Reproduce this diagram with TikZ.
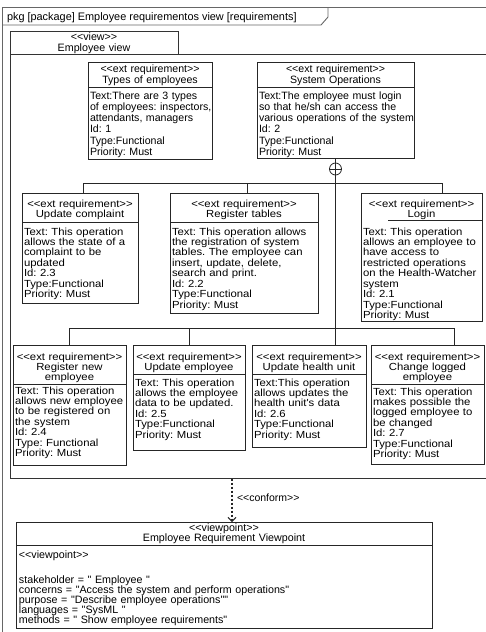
\documentclass[tikz,border=0pt]{standalone}
\usepackage{fontspec}
\setmainfont{Liberation Sans}
\newfontfamily\nfont{Liberation Sans}
\newfontfamily\wfont{Liberation Sans}[FakeStretch=1.1]
\usetikzlibrary{arrows.meta}
\frenchspacing
\begin{document}
\begin{tikzpicture}[x=1pt,y=-1pt,
  every node/.style={inner sep=0pt, outer sep=0pt},
  frameline/.style={draw=black!60, line width=0.9pt},
  viewline/.style={draw=black!80, line width=0.9pt},
  boxline/.style={draw=black!85, line width=0.8pt},
  req/.style={boxline, anchor=north west, rectangle},
  toptxt/.style={font=\nfont\fontsize{10.6}{11.3}\selectfont},
  lowtxt/.style={font=\wfont\fontsize{10.3}{10.45}\selectfont},
  vptxt/.style={font=\nfont\fontsize{10.7}{10}\selectfont},
  hdr/.style={align=center, anchor=base, text width=160},
  bdy/.style={align=left, anchor=base west, text width=220},
  conf/.style={draw=black!85, line width=1.2pt, dash pattern=on 2.5pt off 1.5pt, -{Straight Barb[length=4pt,width=8pt,line width=1pt]}}
]
\useasboundingbox (0,0) rectangle (486,632);
\clip (0,0) rectangle (486,632);

% package frame
\draw[frameline] (2,650) -- (2,7) -- (500,7);
\draw[frameline] (2,25) -- (321,25) -- (328,17) -- (328,7);
\node[anchor=base west, font=\nfont\fontsize{10.9}{12}\selectfont] (pkg) at (7,20.5) {pkg [package] Employee requirementos view [requirements]};

% view frame
\node[viewline, anchor=north west, minimum width=168, minimum height=23] (vtab) at (10,31) {};
\node[hdr, font=\nfont\fontsize{10.7}{11}\selectfont] (vtabt) at (94,40.5) {<<view>>\\Employee view};
\draw[viewline] (vtab.south east) -- (500,54);
\draw[viewline] (vtab.south west) -- (10,478) -- (500,478);

% top row
\node[req, minimum width=124, minimum height=97] (te) at (88,62) {};
\node[toptxt, hdr] (teh) at (te.north |- 0,72) {<<ext requirement>>\\Types of employees};
\draw[boxline] ([yshift=-25pt]te.north west) -- ([yshift=-25pt]te.north east);
\node[toptxt, bdy] (teb) at (90,99) {Text:There are 3 types\\of employees: inspectors,\\attendants, managers\\Id: 1\\Type:Functional\\Priority: Must};

\node[req, minimum width=157, minimum height=96] (so) at (257,62) {};
\node[toptxt, hdr] (soh) at (so.north |- 0,72) {<<ext requirement>>\\System Operations};
\draw[boxline] ([yshift=-25pt]so.north west) -- ([yshift=-25pt]so.north east);
\node[toptxt, bdy] (sob) at (259,99) {Text:The employee must login\\so that he/sh can access the\\various operations of the system\\Id: 2\\Type:Functional\\Priority: Must};

\node[boxline, circle, minimum size=12] (hub) at (so.south |- 0,169) {};
\draw[boxline] (hub.west) -- (hub.east);
\draw[boxline] (so.south) -- (hub.north) -- (hub.south);

% second row
\node[req, minimum width=116, minimum height=110] (uc) at (22,193) {};
\node[lowtxt, hdr] (uch) at (uc.north |- 0,207) {<<ext requirement>>\\Update complaint};
\draw[boxline] ([yshift=-29pt]uc.north west) -- ([yshift=-29pt]uc.north east);
\node[lowtxt, bdy] (ucb) at (24,235) {Text: This operation\\allows the state of a\\complaint to be\\updated\\Id: 2.3\\Type:Functional\\Priority: Must};

\node[req, minimum width=148, minimum height=120] (rt) at (170,193) {};
\node[lowtxt, hdr] (rth) at (rt.north |- 0,207) {<<ext requirement>>\\Register tables};
\draw[boxline] ([yshift=-29pt]rt.north west) -- ([yshift=-29pt]rt.north east);
\node[lowtxt, bdy] (rtb) at (172,235) {Text: This operation allows\\the registration of system\\tables. The employee can\\insert, update, delete,\\search and print.\\Id: 2.2\\Type:Functional\\Priority: Must};

\node[req, minimum width=121, minimum height=128] (lg) at (361,193) {};
\node[lowtxt, hdr] (lgh) at (lg.north |- 0,207) {<<ext requirement>>\\Login};
\draw[boxline] ([yshift=-27pt]lg.north east) -- ++(-94,0);
\node[lowtxt, bdy] (lgb) at (363,235) {Text: This operation\\allows an employee to\\have access to\\restricted operations\\on the Health-Watcher\\system\\Id: 2.1\\Type:Functional\\Priority: Must};

\coordinate (bA) at (83,183);
\coordinate (bB) at (247,183);
\coordinate (bC) at (442,183);
\draw[boxline] (bA |- uc.north) -- (bA) -- (bC) -- (bC |- lg.north);
\draw[boxline] (bB) -- (bB |- rt.north);

% third row
\node[req, minimum width=113, minimum height=120] (rn) at (13,345) {};
\node[lowtxt, hdr] (rnh) at (rn.north |- 0,360) {<<ext requirement>>\\Register new\\employee};
\draw[boxline] ([yshift=-39pt]rn.north west) -- ([yshift=-39pt]rn.north east);
\node[lowtxt, bdy] (rnb) at (15,394) {Text: This operation\\allows new employee\\to be registered on\\the system\\Id: 2.4\\Type: Functional\\Priority: Must};

\node[req, minimum width=112, minimum height=105] (ue) at (133,345) {};
\node[lowtxt, hdr] (ueh) at (ue.north |- 0,360) {<<ext requirement>>\\Update employee};
\draw[boxline] ([yshift=-29pt]ue.north west) -- ([yshift=-29pt]ue.north east);
\node[lowtxt, bdy] (ueb) at (135,386) {Text: This operation\\allows the employee\\data to be updated.\\Id: 2.5\\Type:Functional\\Priority: Must};

\node[req, minimum width=114, minimum height=102] (uh) at (252,345) {};
\node[lowtxt, hdr] (uhh) at (uh.north |- 0,360) {<<ext requirement>>\\Update health unit};
\draw[boxline] ([yshift=-29pt]uh.north west) -- ([yshift=-29pt]uh.north east);
\node[lowtxt, bdy] (uhb) at (254,386) {Text:This operation\\allows updates the\\health unit's data\\Id: 2.6\\Type:Functional\\Priority: Must};

\node[req, minimum width=113, minimum height=119] (cl) at (371,345) {};
\node[lowtxt, hdr] (clh) at (cl.north |- 0,360) {<<ext requirement>>\\Change logged\\employee};
\draw[boxline] ([yshift=-39pt]cl.north west) -- ([yshift=-39pt]cl.north east);
\node[lowtxt, bdy] (clb) at (373,395) {Text: This operation\\makes possible the\\logged employee to\\be changed\\Id: 2.7\\Type:Functional\\Priority: Must};

\coordinate (cA) at (69,328);
\coordinate (cB) at (189,328);
\coordinate (cC) at (hub |- 0,328);
\coordinate (cD) at (454,328);
\draw[boxline] (cA |- rn.north) -- (cA) -- (cD) -- (cD |- cl.north);
\draw[boxline] (cB) -- (cB |- ue.north);
\draw[boxline] (hub.south) -- (cC) -- (cC |- uh.north);

% viewpoint
\node[req, minimum width=416, minimum height=106] (vp) at (16,522) {};
\node[vptxt, hdr, text width=300] (vph) at (vp.north |- 0,531.5) {<<viewpoint>>\\Employee Requirement Viewpoint};
\draw[boxline] ([yshift=-23pt]vp.north west) -- ([yshift=-23pt]vp.north east);
\node[vptxt, bdy, text width=400] (vpb1) at (19,558) {<<viewpoint>>};
\node[vptxt, bdy, text width=400] (vpb2) at (19,583) {stakeholder = " Employee "\\concerns = "Access the system and perform operations"\\purpose = "Describe employee operations""\\languages = "SysML "\\methods = " Show employee requirements"};

\coordinate (cf) at (232,478.5);
\draw[conf] (cf) -- (cf |- vp.north);
\node[anchor=base west, font=\nfont\fontsize{10.5}{12}\selectfont] (cft) at (237,501.5) {<<conform>>};
\end{tikzpicture}
\end{document}
